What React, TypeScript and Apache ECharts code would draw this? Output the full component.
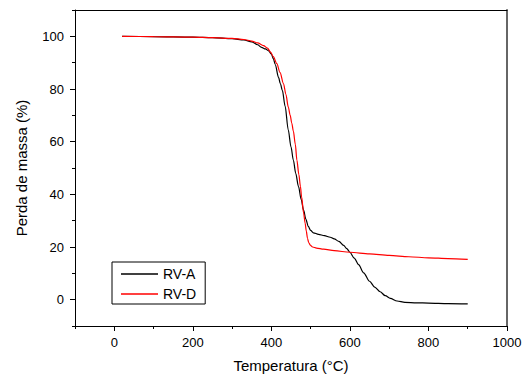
import React, { useEffect, useRef } from "react";
import * as echarts from "echarts";

const tempA = [20, 100, 200, 250, 300, 330, 350, 365, 375, 385, 393, 400, 405, 410, 418, 423, 428, 435, 443, 450, 456, 462, 469, 476, 482, 488, 494, 500, 507, 520, 535, 550, 560, 572, 584, 592, 600, 611, 622, 635, 650, 663, 677, 690, 703, 720, 740, 770, 800, 850, 900];
const massA = [100, 99.9, 99.7, 99.5, 99.1, 98.6, 97.9, 96.8, 95.8, 95.2, 94.5, 93.3, 91.5, 89.3, 84.5, 82, 79.5, 73.5, 64.5, 58, 53, 48, 43, 38, 34, 30.5, 27.8, 26.3, 25.4, 24.8, 24.3, 23.7, 23.1, 22.1, 20.6, 19.4, 18, 15.8, 13.3, 10.2, 7, 4.8, 3, 1.5, 0.5, -0.5, -1, -1.2, -1.3, -1.5, -1.6];

const tempD = [20, 100, 200, 250, 300, 330, 350, 365, 380, 390, 398, 405, 414, 422, 431, 437, 443, 448, 452, 456, 461, 465, 470, 474, 477, 482, 486, 489, 492, 495, 499, 505, 515, 533, 560, 600, 650, 700, 750, 800, 850, 900];
const massD = [100, 99.9, 99.7, 99.5, 99.2, 98.8, 98.2, 97.5, 96.5, 95.5, 94, 92.3, 89.6, 86.3, 82, 78, 73.2, 70, 67, 64, 59, 53, 47.5, 43, 39, 33, 29, 26, 23.3, 21.7, 20.7, 20, 19.6, 19.2, 18.6, 18, 17.4, 16.8, 16.3, 15.9, 15.6, 15.3];

const seriesNames = ["RV-A", "RV-D"];
const xMajorTicks = [0, 200, 400, 600, 800, 1000];
const xMinorTicks = [-100, 100, 300, 500, 700, 900];
const yMajorTicks = [0, 20, 40, 60, 80, 100];
const yMinorTicks = [-10, 10, 30, 50, 70, 90, 110];

const FONT = "Liberation Sans, Arial, sans-serif";

export default function App() {
  const ref = useRef<HTMLDivElement>(null);
  useEffect(() => {
    if (!ref.current) return;
    const chart = echarts.init(ref.current, undefined, { renderer: "svg" });
    const dataA = tempA.map((t, i) => [t, massA[i]]);
    const dataD = tempD.map((t, i) => [t, massD[i]]);
    const grid = { left: 75, right: 19, top: 10, bottom: 51 };
    const baseX = { type: "value", min: -100, max: 1000, splitLine: { show: false } };
    const baseY = { type: "value", min: -10, max: 110, splitLine: { show: false } };
    const plain = (v: number) => String(v);
    chart.setOption({
      animation: false,
      backgroundColor: "#fff",
      grid,
      legend: {
        data: seriesNames,
        orient: "vertical",
        left: 112,
        top: 262,
        width: 99,
        itemWidth: 37,
        itemHeight: 1.5,
        icon: "rect",
        itemGap: 6,
        padding: [5, 9, 3, 9],
        borderColor: "#000",
        borderWidth: 1,
        borderRadius: 0,
        backgroundColor: "#fff",
        textStyle: { fontSize: 14, lineHeight: 14, color: "#000", fontFamily: FONT },
      },
      xAxis: [
        {
          ...baseX,
          position: "bottom",
          name: "Temperatura (°C)",
          nameLocation: "middle",
          nameGap: 32,
          nameTextStyle: { fontSize: 15, color: "#000", fontFamily: FONT },
          axisLine: { show: true, onZero: false, lineStyle: { color: "#000", width: 1 } },
          axisTick: { show: true, inside: false, length: 5, customValues: xMajorTicks, lineStyle: { color: "#000" } },
          axisLabel: { show: true, margin: 10, fontSize: 13, color: "#000", fontFamily: FONT, customValues: xMajorTicks, formatter: plain },
        },
        {
          ...baseX,
          position: "bottom",
          axisLine: { show: false, onZero: false },
          axisTick: { show: true, inside: false, length: 3, customValues: xMinorTicks, lineStyle: { color: "#000" } },
          axisLabel: { show: false },
        },
        {
          ...baseX,
          position: "top",
          axisLine: { show: true, onZero: false, lineStyle: { color: "#000", width: 1 } },
          axisTick: { show: false },
          axisLabel: { show: false },
        },
      ],
      yAxis: [
        {
          ...baseY,
          position: "left",
          name: "Perda de massa (%)",
          nameLocation: "middle",
          nameGap: 46,
          nameTextStyle: { fontSize: 15, color: "#000", fontFamily: FONT },
          axisLine: { show: true, onZero: false, lineStyle: { color: "#000", width: 1 } },
          axisTick: { show: true, inside: false, length: 5, customValues: yMajorTicks, lineStyle: { color: "#000" } },
          axisLabel: { show: true, margin: 11, fontSize: 13, color: "#000", fontFamily: FONT, customValues: yMajorTicks, formatter: plain },
        },
        {
          ...baseY,
          position: "left",
          axisLine: { show: false, onZero: false },
          axisTick: { show: true, inside: false, length: 3, customValues: yMinorTicks, lineStyle: { color: "#000" } },
          axisLabel: { show: false },
        },
        {
          ...baseY,
          position: "right",
          axisLine: { show: true, onZero: false, lineStyle: { color: "#666", width: 2 } },
          axisTick: { show: false },
          axisLabel: { show: false },
        },
      ],
      series: [
        {
          name: seriesNames[0],
          type: "line",
          data: dataA,
          showSymbol: false,
          symbol: "none",
          smooth: 0.3,
          smoothMonotone: "x",
          lineStyle: { color: "#000", width: 1.2 },
          itemStyle: { color: "#000" },
          z: 3,
        },
        {
          name: seriesNames[1],
          type: "line",
          data: dataD,
          showSymbol: false,
          symbol: "none",
          smooth: 0.3,
          smoothMonotone: "x",
          lineStyle: { color: "#ff0000", width: 1.2 },
          itemStyle: { color: "#ff0000" },
          z: 4,
        },
      ],
    });
    return () => chart.dispose();
  }, []);
  return <div ref={ref} style={{ width: 526, height: 378, position: "fixed", left: 0, top: 0 }} />;
}
